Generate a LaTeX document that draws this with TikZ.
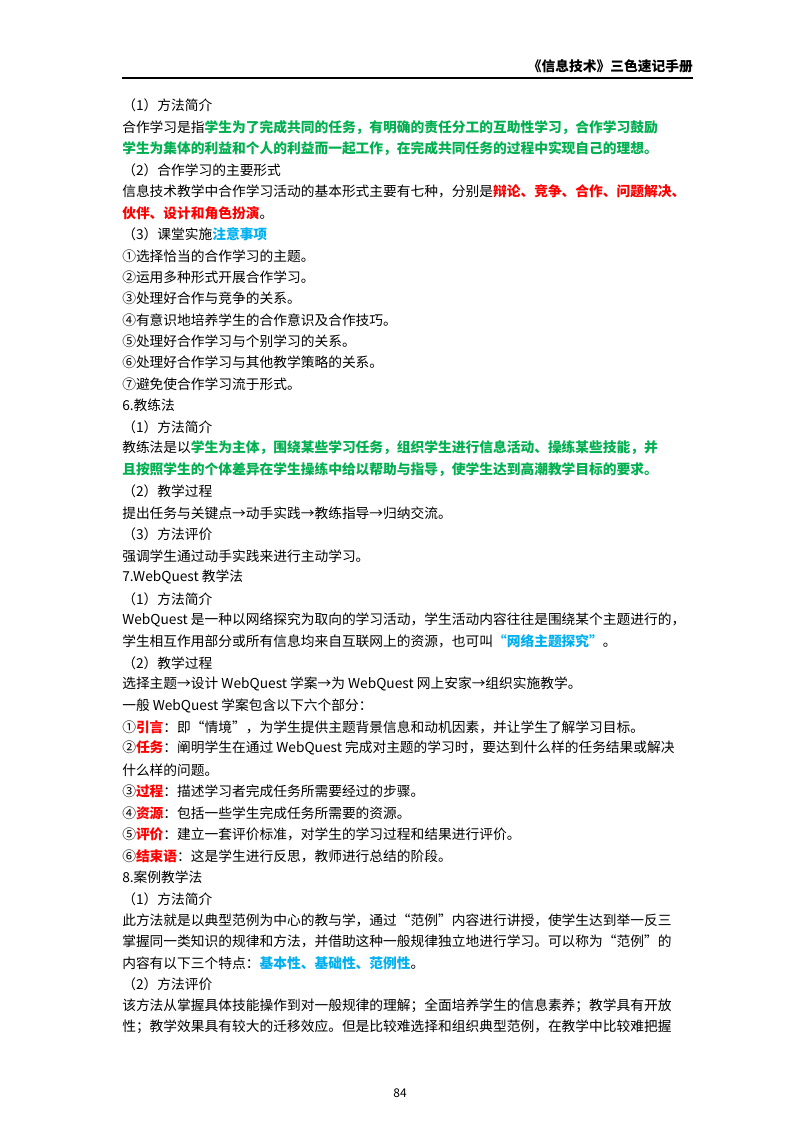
\documentclass[tikz,border=0pt]{standalone}
\usepackage{fontspec}
\setmainfont{Noto Sans CJK SC}
\definecolor{kg}{RGB}{0,176,80}
\definecolor{kr}{RGB}{255,0,0}
\definecolor{kb}{RGB}{0,176,240}
\newcommand{\G}[1]{\textcolor{kg}{\bfseries #1}}
\newcommand{\R}[1]{\textcolor{kr}{\bfseries #1}}
\newcommand{\B}[1]{\textcolor{kb}{\bfseries #1}}
\tikzset{ln/.style={anchor=west,inner sep=0pt,font=\fontsize{10.3pt}{12pt}\selectfont}}
\begin{document}
\begin{tikzpicture}[x=0.75pt,y=-0.75pt]
\useasboundingbox[fill=white] (0,0) rectangle (800,1132);
\node[anchor=east,inner sep=0pt,font=\fontsize{10.3pt}{12pt}\selectfont\bfseries] (hd) at (693,66) {《信息技术》三色速记手册};
\draw[line width=0.8pt] (122,78) -- (693,78);
\node[ln] (l1) at (122,105) {（1）方法简介};
\node[ln] (l2) at (122,128) {合作学习是指\G{学生为了完成共同的任务，有明确的责任分工的互助性学习，合作学习鼓励}};
\node[ln] (l3) at (122,149) {\G{学生为集体的利益和个人的利益而一起工作，在完成共同任务的过程中实现自己的理想。}};
\node[ln] (l4) at (122,170) {（2）合作学习的主要形式};
\node[ln] (l5) at (122,191) {信息技术教学中合作学习活动的基本形式主要有七种，分别是\R{辩论、竞争、合作、问题解决、}};
\node[ln] (l6) at (122,213) {\R{伙伴、设计和角色扮演}。};
\node[ln] (l7) at (122,234) {（3）课堂实施\B{注意事项}};
\node[ln] (l8) at (122,256) {①选择恰当的合作学习的主题。};
\node[ln] (l9) at (122,277) {②运用多种形式开展合作学习。};
\node[ln] (l10) at (122,298) {③处理好合作与竞争的关系。};
\node[ln] (l11) at (122,320) {④有意识地培养学生的合作意识及合作技巧。};
\node[ln] (l12) at (122,341) {⑤处理好合作学习与个别学习的关系。};
\node[ln] (l13) at (122,362) {⑥处理好合作学习与其他教学策略的关系。};
\node[ln] (l14) at (122,384) {⑦避免使合作学习流于形式。};
\node[ln] (l15) at (122,405) {6.教练法};
\node[ln] (l16) at (122,427) {（1）方法简介};
\node[ln] (l17) at (122,448) {教练法是以\G{学生为主体，围绕某些学习任务，组织学生进行信息活动、操练某些技能，并}};
\node[ln] (l18) at (122,470) {\G{且按照学生的个体差异在学生操练中给以帮助与指导，使学生达到高潮教学目标的要求。}};
\node[ln] (l19) at (122,491) {（2）教学过程};
\node[ln] (l20) at (122,513) {提出任务与关键点→动手实践→教练指导→归纳交流。};
\node[ln] (l21) at (122,534) {（3）方法评价};
\node[ln] (l22) at (122,556) {强调学生通过动手实践来进行主动学习。};
\node[ln] (l23) at (122,577) {7.WebQuest 教学法};
\node[ln] (l24) at (122,599) {（1）方法简介};
\node[ln] (l25) at (122,620) {WebQuest 是一种以网络探究为取向的学习活动，学生活动内容往往是围绕某个主题进行的，};
\node[ln] (l26) at (122,641) {学生相互作用部分或所有信息均来自互联网上的资源，也可叫\B{“网络主题探究”}。};
\node[ln] (l27) at (122,663) {（2）教学过程};
\node[ln] (l28) at (122,684) {选择主题→设计 WebQuest 学案→为 WebQuest 网上安家→组织实施教学。};
\node[ln] (l29) at (122,706) {一般 WebQuest 学案包含以下六个部分：};
\node[ln] (l30) at (122,727) {①\R{引言}：即“情境”，为学生提供主题背景信息和动机因素，并让学生了解学习目标。};
\node[ln] (l31) at (122,748) {②\R{任务}：阐明学生在通过 WebQuest 完成对主题的学习时，要达到什么样的任务结果或解决};
\node[ln] (l32) at (122,770) {什么样的问题。};
\node[ln] (l33) at (122,791) {③\R{过程}：描述学习者完成任务所需要经过的步骤。};
\node[ln] (l34) at (122,813) {④\R{资源}：包括一些学生完成任务所需要的资源。};
\node[ln] (l35) at (122,834) {⑤\R{评价}：建立一套评价标准，对学生的学习过程和结果进行评价。};
\node[ln] (l36) at (122,856) {⑥\R{结束语}：这是学生进行反思，教师进行总结的阶段。};
\node[ln] (l37) at (122,877) {8.案例教学法};
\node[ln] (l38) at (122,899) {（1）方法简介};
\node[ln] (l39) at (122,920) {此方法就是以典型范例为中心的教与学，通过“范例”内容进行讲授，使学生达到举一反三};
\node[ln] (l40) at (122,941) {掌握同一类知识的规律和方法，并借助这种一般规律独立地进行学习。可以称为“范例”的};
\node[ln] (l41) at (122,963) {内容有以下三个特点：\B{基本性、基础性、范例性}。};
\node[ln] (l42) at (122,984) {（2）方法评价};
\node[ln] (l43) at (122,1006) {该方法从掌握具体技能操作到对一般规律的理解；全面培养学生的信息素养；教学具有开放};
\node[ln] (l44) at (122,1027) {性；教学效果具有较大的迁移效应。但是比较难选择和组织典型范例，在教学中比较难把握};
\node[inner sep=0pt,font=\fontsize{9pt}{10pt}\selectfont] (pg) at (400,1093) {84};
\end{tikzpicture}
\end{document}
